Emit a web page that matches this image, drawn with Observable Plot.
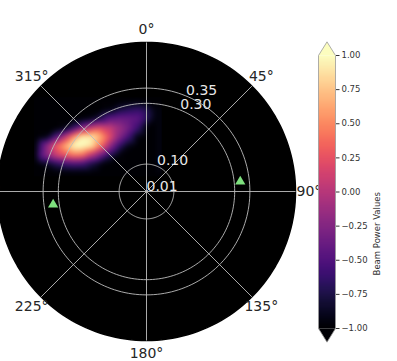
<!DOCTYPE html>
<html>
<head>
<meta charset="utf-8">
<script src="https://cdn.jsdelivr.net/npm/d3@7"></script>
<script src="https://cdn.jsdelivr.net/npm/@observablehq/plot@0.6"></script>
<style>
  body { margin: 0; background: #fff; font-family: "DejaVu Sans", sans-serif; }
  #wrap { position: relative; width: 397px; height: 361px; overflow: hidden; }
  #wrap svg { position: absolute; top: 0; }
</style>
</head>
<body>
<div id="wrap"></div>
<script>
// Radial axis (slowness) and azimuth ticks
const rMin = 0.01, rMax = 0.5;
const ringTicks = [0.01, 0.10, 0.30, 0.35];
const ringLabels = ["0.01", "0.10", "0.30", "0.35"];
const ringLabelAzimuth = 22.5;
const azimuthTicks = [0, 45, 90, 135, 180, 225, 270, 315];
const azimuthLabels = ["0°", "45°", "90°", "135°", "180°", "225°", "270°", "315°"];

// Beam power sampled on an east/north grid (radial units measured from the centre)
const gridEast = [-0.36, -0.33, -0.30, -0.27, -0.24, -0.21, -0.18, -0.15, -0.12, -0.09, -0.06, -0.03, 0.00, 0.03];
const gridNorth = [0.30, 0.27, 0.24, 0.21, 0.18, 0.15, 0.12, 0.09, 0.06];
const beamPower = [
  [-1, -1, -1, -1, -1, -1, -1, -1, -1, -1, -1, -0.99, -1, -1],
  [-1, -1, -1, -1, -1, -1, -1, -1, -0.95, -0.78, -0.70, -0.64, -0.72, -0.95],
  [-1, -1, -1, -1, -1, -0.98, -0.92, -0.70, -0.42, -0.36, -0.38, -0.42, -0.68, -0.95],
  [-1, -1, -1, -0.95, -0.62, -0.20, 0.10, 0.20, 0.10, -0.12, -0.32, -0.58, -0.98, -1],
  [-1, -0.95, -0.50, 0.00, 0.55, 0.95, 0.92, 0.65, 0.22, -0.22, -0.55, -0.94, -1, -1],
  [-0.78, -0.22, 0.30, 0.65, 1.00, 1.00, 0.90, 0.40, -0.18, -0.62, -0.92, -1, -1, -1],
  [-0.66, -0.22, 0.10, 0.28, 0.45, 0.40, 0.02, -0.32, -0.70, -0.96, -1, -1, -1, -1],
  [-1, -0.90, -0.72, -0.60, -0.55, -0.58, -0.78, -0.95, -1, -1, -1, -1, -1, -1],
  [-1, -1, -1, -1, -1, -1, -1, -1, -1, -1, -1, -1, -1, -1]
];

// Station markers (azimuth in degrees, radius)
const markerAzimuth = [84, 262];
const markerRadius = [0.32, 0.32];

// Colorbar
const powerDomain = [-1, 1];
const colorbarTicks = [-1, -0.75, -0.5, -0.25, 0, 0.25, 0.5, 0.75, 1];
const colorbarLabel = "Beam Power Values";
const extendFrac = 0.05;

// --- polar helpers (azimuth clockwise from north) ---
const R = rMax - rMin;
const rad = a => a * Math.PI / 180;
const polar = (az, r) => ({x: (r - rMin) * Math.sin(rad(az)), y: (r - rMin) * Math.cos(rad(az))});
const circle = r => d3.range(0, 361, 2).map(a => polar(a, r));

const cells = [];
gridNorth.forEach((n, i) => gridEast.forEach((e, j) => cells.push({x: e, y: n, v: beamPower[i][j]})));

const gridColor = "#bdbdbd";
const font = "DejaVu Sans";

const mainPlot = Plot.plot({
  width: 397,
  height: 361,
  style: {background: "transparent", fontFamily: font, overflow: "visible"},
  x: {domain: [-R, R], range: [-3, 295], axis: null},
  y: {domain: [-R, R], range: [340, 42], axis: null},
  color: {type: "linear", scheme: "magma", domain: powerDomain},
  marks: [
    // polar background
    Plot.line(circle(rMax), {x: "x", y: "y", fill: "black", stroke: "black"}),
    // beam power field
    Plot.raster(cells, {
      x: "x", y: "y", fill: "v",
      interpolate: "barycentric",
      x1: -0.37, x2: 0.05, y1: 0.31, y2: 0.05,
      pixelSize: 1, blur: 2
    }),
    // rings and spokes
    ...ringTicks.map(t => Plot.line(circle(t), {x: "x", y: "y", stroke: gridColor, strokeWidth: 1, strokeOpacity: 0.9})),
    Plot.link(azimuthTicks, {
      x1: () => 0, y1: () => 0,
      x2: a => polar(a, rMax).x, y2: a => polar(a, rMax).y,
      stroke: gridColor, strokeWidth: 1, strokeOpacity: 0.9
    }),
    // ring labels
    Plot.text(ringTicks, {
      x: t => polar(ringLabelAzimuth, t).x,
      y: t => polar(ringLabelAzimuth, t).y,
      text: (d, i) => ringLabels[i],
      textAnchor: "start", lineAnchor: "bottom", dy: -1,
      fill: "#e8e8e8", fontSize: 14
    }),
    // station markers
    Plot.dot(markerAzimuth, {
      x: (a, i) => polar(a, markerRadius[i]).x,
      y: (a, i) => polar(a, markerRadius[i]).y,
      symbol: "triangle", r: 3.8, fill: "#7ee07e", stroke: "none"
    }),
    // azimuth labels
    Plot.text(azimuthTicks, {
      x: a => polar(a, rMax + 0.044).x,
      y: a => polar(a, rMax + 0.044).y,
      text: (d, i) => azimuthLabels[i],
      fill: "#262626", fontSize: 14
    })
  ]
});
mainPlot.style.left = "0px";

// colorbar with extend triangles
const vHigh = powerDomain[1], vLow = powerDomain[0];
const ext = (vHigh - vLow) * extendFrac;
const highTri = [{x: 0, y: vHigh, v: vHigh}, {x: 0.5, y: vHigh + ext, v: vHigh}, {x: 1, y: vHigh, v: vHigh}];
const lowTri = [{x: 0, y: vLow, v: vLow}, {x: 0.5, y: vLow - ext, v: vLow}, {x: 1, y: vLow, v: vLow}];
const outline = [
  {x: 0, y: vLow}, {x: 0, y: vHigh}, {x: 0.5, y: vHigh + ext}, {x: 1, y: vHigh},
  {x: 1, y: vLow}, {x: 0.5, y: vLow - ext}, {x: 0, y: vLow}
];

const colorbar = Plot.plot({
  width: 97,
  height: 361,
  marginLeft: 18, marginRight: 62, marginTop: 55, marginBottom: 33,
  style: {background: "transparent", fontFamily: font, fontSize: "8.5px", overflow: "visible"},
  x: {domain: [0, 1], axis: null},
  y: {domain: powerDomain, axis: null},
  color: {type: "linear", scheme: "magma", domain: powerDomain},
  marks: [
    Plot.raster({fill: (x, y) => y, x1: 0, x2: 1, y1: vLow, y2: vHigh, pixelSize: 1}),
    Plot.line(highTri, {x: "x", y: "y", fill: "v", stroke: "none"}),
    Plot.line(lowTri, {x: "x", y: "y", fill: "v", stroke: "none"}),
    Plot.line(outline, {x: "x", y: "y", stroke: "#999", strokeWidth: 0.8}),
    Plot.axisY(colorbarTicks, {
      anchor: "right", tickSize: 3.5, tickPadding: 2.5,
      tickFormat: d3.format(".2f"), label: null,
      color: "#333", fontSize: 8.5
    }),
    Plot.text([colorbarLabel], {frameAnchor: "right", dx: 42, rotate: -90, fill: "#333", fontSize: 8.5})
  ]
});
colorbar.style.left = "300px";

const wrap = document.getElementById("wrap");
wrap.appendChild(mainPlot);
wrap.appendChild(colorbar);
</script>
</body>
</html>
